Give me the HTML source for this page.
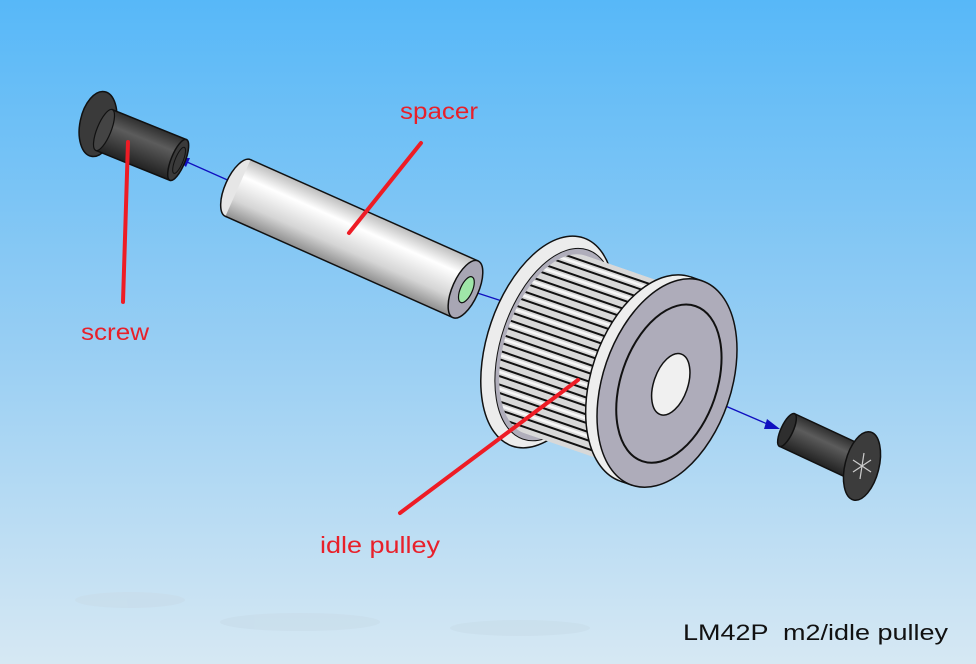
<!DOCTYPE html>
<html><head><meta charset="utf-8"><style>
html,body{margin:0;padding:0;}
body{width:976px;height:664px;overflow:hidden;}
svg{display:block;}
</style></head><body>
<svg width="976" height="664" viewBox="0 0 976 664" xmlns="http://www.w3.org/2000/svg">
<defs>
<linearGradient id="bg" x1="0" y1="0" x2="0" y2="1">
<stop offset="0" stop-color="#57b8f8"/><stop offset="0.5" stop-color="#95cdf3"/><stop offset="1" stop-color="#d6e8f3"/>
</linearGradient>
<linearGradient id="cyl" x1="0" y1="0" x2="0" y2="1">
<stop offset="0" stop-color="#bdbdbd"/><stop offset="0.3" stop-color="#ffffff"/><stop offset="0.7" stop-color="#d5d5d5"/><stop offset="1" stop-color="#8f8f8f"/>
</linearGradient>
<linearGradient id="dark" x1="0" y1="0" x2="0" y2="1">
<stop offset="0" stop-color="#2f2f2f"/><stop offset="0.35" stop-color="#5c5c5c"/><stop offset="1" stop-color="#222"/>
</linearGradient>
<clipPath id="body"><rect x="-118" y="-94" width="113" height="188"/><ellipse cx="-118" cy="0" rx="50" ry="94"/></clipPath>
</defs>
<rect width="976" height="664" fill="url(#bg)"/>
<g fill="#c8dcea" opacity="0.6"><ellipse cx="130" cy="600" rx="55" ry="8"/><ellipse cx="300" cy="622" rx="80" ry="9"/><ellipse cx="520" cy="628" rx="70" ry="8"/></g>

<g stroke="#1010c0" stroke-width="1.3" fill="none">
<line x1="178" y1="158" x2="232" y2="182"/>
<line x1="462" y1="288" x2="505" y2="302"/>
<line x1="672" y1="383" x2="772" y2="426"/>
</g>
<polygon points="176,158 190,158 186,167" fill="#1010c0"/>
<polygon points="780,429 767,419 764,429" fill="#1010c0"/>

<!-- left screw -->
<ellipse cx="98" cy="124" rx="18" ry="33" transform="rotate(12 98 124)" fill="#3a3a3a" stroke="#111" stroke-width="1.5"/>
<g transform="translate(104,130) rotate(22)">
<rect x="0" y="-22" width="80" height="44" fill="url(#dark)" stroke="#111" stroke-width="1.5"/>
<ellipse cx="0" cy="0" rx="7" ry="22" fill="#444" stroke="#111" stroke-width="1.2"/>
<ellipse cx="80" cy="0" rx="7" ry="22" fill="#3a3a3a" stroke="#111" stroke-width="1.5"/>
<ellipse cx="81" cy="0" rx="4" ry="14" fill="none" stroke="#111" stroke-width="1"/>
</g>

<!-- spacer -->
<g transform="translate(238,188) rotate(24)">
<ellipse cx="0" cy="0" rx="13" ry="31" fill="#e6e6e6" stroke="#111" stroke-width="1.5"/>
<rect x="0" y="-31" width="249" height="62" fill="url(#cyl)"/>
<line x1="0" y1="-31" x2="249" y2="-31" stroke="#111" stroke-width="1.5"/>
<line x1="0" y1="31" x2="249" y2="31" stroke="#111" stroke-width="1.5"/>
<ellipse cx="249" cy="0" rx="13" ry="31" fill="#a8a6b4" stroke="#111" stroke-width="1.5"/>
<ellipse cx="250" cy="0" rx="6" ry="14" fill="#9fe6a8" stroke="#111" stroke-width="1.2"/>
</g>

<!-- pulley -->
<g transform="translate(667,383) rotate(19)">
<ellipse cx="-126" cy="0" rx="60" ry="110" fill="#ececec" stroke="#111" stroke-width="1.5"/>
<ellipse cx="-118" cy="0" rx="54" ry="100" fill="#b0aebb" stroke="#111" stroke-width="1"/>
<g clip-path="url(#body)">
<rect x="-180" y="-95" width="180" height="190" fill="#d8d8d8"/>
<g stroke="#111" stroke-width="2">
<line x1="-190" y1="-88" x2="0" y2="-88"/><line x1="-190" y1="-80" x2="0" y2="-80"/>
<line x1="-190" y1="-72" x2="0" y2="-72"/><line x1="-190" y1="-64" x2="0" y2="-64"/>
<line x1="-190" y1="-56" x2="0" y2="-56"/><line x1="-190" y1="-48" x2="0" y2="-48"/>
<line x1="-190" y1="-40" x2="0" y2="-40"/><line x1="-190" y1="-32" x2="0" y2="-32"/>
<line x1="-190" y1="-24" x2="0" y2="-24"/><line x1="-190" y1="-16" x2="0" y2="-16"/>
<line x1="-190" y1="-8" x2="0" y2="-8"/><line x1="-190" y1="0" x2="0" y2="0"/>
<line x1="-190" y1="8" x2="0" y2="8"/><line x1="-190" y1="16" x2="0" y2="16"/>
<line x1="-190" y1="24" x2="0" y2="24"/><line x1="-190" y1="32" x2="0" y2="32"/>
<line x1="-190" y1="40" x2="0" y2="40"/><line x1="-190" y1="48" x2="0" y2="48"/>
<line x1="-190" y1="56" x2="0" y2="56"/><line x1="-190" y1="64" x2="0" y2="64"/>
<line x1="-190" y1="72" x2="0" y2="72"/><line x1="-190" y1="80" x2="0" y2="80"/>
<line x1="-190" y1="88" x2="0" y2="88"/>
</g>
<g stroke="#ffffff" stroke-width="2.5" opacity="0.8">
<line x1="-190" y1="-84" x2="0" y2="-84"/><line x1="-190" y1="-68" x2="0" y2="-68"/>
<line x1="-190" y1="-52" x2="0" y2="-52"/><line x1="-190" y1="-36" x2="0" y2="-36"/>
<line x1="-190" y1="-20" x2="0" y2="-20"/><line x1="-190" y1="-4" x2="0" y2="-4"/>
<line x1="-190" y1="12" x2="0" y2="12"/><line x1="-190" y1="28" x2="0" y2="28"/>
<line x1="-190" y1="44" x2="0" y2="44"/><line x1="-190" y1="60" x2="0" y2="60"/>
<line x1="-190" y1="76" x2="0" y2="76"/>
</g>
</g>
<ellipse cx="-12" cy="0" rx="64" ry="108" fill="#eeeeee" stroke="#111" stroke-width="1.5"/>
<rect x="-12" y="-108" width="12" height="216" fill="#eeeeee"/>
<line x1="-12" y1="-108" x2="0" y2="-108" stroke="#111" stroke-width="1.5"/>
<line x1="-12" y1="108" x2="0" y2="108" stroke="#111" stroke-width="1.5"/>
<ellipse cx="0" cy="0" rx="64" ry="108" fill="#aeacba" stroke="#111" stroke-width="1.5"/>
<ellipse cx="2" cy="0" rx="48" ry="82" fill="none" stroke="#111" stroke-width="2"/>
<ellipse cx="4" cy="0" rx="17" ry="32" fill="#f0f0f0" stroke="#111" stroke-width="1.5"/>
</g>

<!-- right screw -->
<g transform="translate(787,430) rotate(25)">
<rect x="0" y="-18" width="78" height="36" fill="url(#dark)" stroke="#111" stroke-width="1.5"/>
<ellipse cx="0" cy="0" rx="6" ry="18" fill="#2e2e2e" stroke="#111" stroke-width="1.5"/>
</g>
<ellipse cx="862" cy="466" rx="17" ry="35" transform="rotate(14 862 466)" fill="#3c3c3c" stroke="#111" stroke-width="1.5"/>
<g stroke="#ccc" stroke-width="1.2"><line x1="864" y1="453" x2="860" y2="479"/><line x1="853" y1="460" x2="871" y2="472"/><line x1="853" y1="472" x2="871" y2="460"/></g>

<g stroke="#ee1c25" stroke-width="4" stroke-linecap="round">
<line x1="421" y1="143" x2="349" y2="233"/>
<line x1="128" y1="142" x2="123" y2="302"/>
<line x1="578" y1="380" x2="400" y2="513"/>
</g>

<g font-family="Liberation Sans, sans-serif" font-size="23" fill="#e8202a">
<text x="400" y="119" textLength="78" lengthAdjust="spacingAndGlyphs">spacer</text>
<text x="81" y="340" textLength="68" lengthAdjust="spacingAndGlyphs">screw</text>
<text x="320" y="553" textLength="120" lengthAdjust="spacingAndGlyphs">idle pulley</text>
</g>
<text x="683" y="640" font-family="Liberation Sans, sans-serif" font-size="22" fill="#111" xml:space="preserve" textLength="265" lengthAdjust="spacingAndGlyphs">LM42P  m2/idle pulley</text>
</svg>
</body></html>
